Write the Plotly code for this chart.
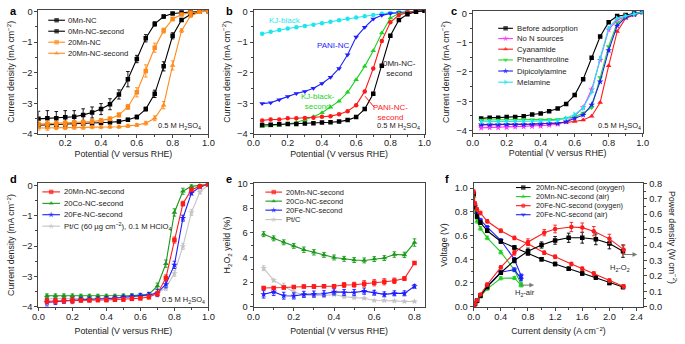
import plotly.graph_objects as go

W, H = 685, 344
FONT = "Liberation Sans, Arial, sans-serif"

# ---------------- data ----------------
potential = [0.05, 0.10, 0.15, 0.20, 0.25, 0.30, 0.35, 0.40, 0.45, 0.50,
             0.55, 0.60, 0.65, 0.70, 0.75, 0.80, 0.85, 0.90, 0.95, 1.00]

# panel a
a_0Mn = [-3.51, -3.49, -3.49, -3.46, -3.44, -3.38, -3.30, -3.19, -3.03, -2.71, -2.21, -1.55, -0.87, -0.40, -0.16, -0.06, -0.03, 0.0, 0.01, 0.02]
a_0Mn_err = [0.25, 0.25, 0.22, 0.22, 0.2, 0.2, 0.18, 0.18, 0.18, 0.15, 0.25, 0.12, 0.12, 0.07, 0.05, 0.03, 0.02, 0.01, 0.01, 0.01]
a_0Mn2 = [-3.72, -3.71, -3.70, -3.69, -3.68, -3.67, -3.66, -3.64, -3.62, -3.60, -3.54, -3.45, -3.19, -2.69, -1.79, -0.79, -0.27, -0.09, 0.0, 0.02]
a_0Mn2_err = [0.08, 0.07, 0.07, 0.06, 0.06, 0.06, 0.05, 0.05, 0.05, 0.05, 0.05, 0.06, 0.06, 0.12, 0.15, 0.1, 0.05, 0.03, 0.01, 0.01]
a_20Mn = [-3.68, -3.67, -3.66, -3.65, -3.63, -3.62, -3.60, -3.56, -3.51, -3.38, -3.12, -2.64, -1.94, -1.18, -0.62, -0.24, -0.09, -0.03, 0.0, 0.02]
a_20Mn_err = [0.1, 0.1, 0.08, 0.08, 0.07, 0.07, 0.06, 0.06, 0.06, 0.07, 0.08, 0.15, 0.2, 0.15, 0.08, 0.06, 0.03, 0.02, 0.01, 0.01]
a_20Mn2 = [-3.81, -3.81, -3.80, -3.80, -3.79, -3.79, -3.78, -3.78, -3.77, -3.77, -3.74, -3.71, -3.65, -3.49, -3.06, -1.76, -0.62, -0.14, -0.02, 0.02]
a_20Mn2_err = [0.07, 0.07, 0.06, 0.06, 0.06, 0.06, 0.05, 0.05, 0.05, 0.05, 0.05, 0.05, 0.06, 0.08, 0.12, 0.15, 0.06, 0.04, 0.01, 0.01]

# panel b
b_KJ = [-0.72, -0.66, -0.60, -0.55, -0.51, -0.47, -0.43, -0.38, -0.33, -0.28, -0.23, -0.19, -0.15, -0.11, -0.07, -0.04, -0.02, 0.0, 0.02, 0.03]
b_PANI = [-3.01, -2.98, -2.88, -2.78, -2.68, -2.61, -2.51, -2.35, -2.15, -1.86, -1.41, -0.83, -0.51, -0.24, -0.12, -0.06, -0.03, -0.01, 0.01, 0.03]
b_KJ2 = [-3.76, -3.74, -3.72, -3.68, -3.63, -3.54, -3.44, -3.31, -3.13, -2.93, -2.64, -2.23, -1.79, -1.28, -0.70, -0.21, -0.06, -0.02, 0.02, 0.04]
b_PANI2 = [-3.56, -3.53, -3.53, -3.49, -3.49, -3.48, -3.47, -3.44, -3.42, -3.36, -3.26, -3.06, -2.61, -1.86, -0.96, -0.35, -0.11, -0.03, 0.01, 0.04]
b_0Mn2 = [-3.71, -3.70, -3.69, -3.68, -3.68, -3.66, -3.65, -3.63, -3.62, -3.60, -3.55, -3.45, -3.19, -2.69, -1.77, -0.79, -0.27, -0.08, 0.0, 0.03]

# panel c
c_before = [-3.59, -3.56, -3.56, -3.54, -3.54, -3.51, -3.45, -3.42, -3.34, -3.25, -3.09, -2.79, -2.25, -1.51, -0.79, -0.30, -0.09, -0.05, 0.0, 0.05]
c_noN = [-3.91, -3.90, -3.90, -3.89, -3.88, -3.87, -3.86, -3.85, -3.82, -3.78, -3.69, -3.51, -3.21, -2.60, -1.59, -0.55, -0.22, -0.11, -0.03, 0.05]
c_cyan = [-3.80, -3.80, -3.79, -3.79, -3.79, -3.78, -3.78, -3.77, -3.76, -3.75, -3.72, -3.69, -3.64, -3.51, -3.04, -1.79, -0.62, -0.16, -0.05, 0.05]
c_phen = [-3.64, -3.64, -3.64, -3.64, -3.64, -3.63, -3.63, -3.63, -3.62, -3.62, -3.58, -3.54, -3.40, -3.21, -2.19, -1.13, -0.33, -0.11, -0.02, 0.05]
c_dipic = [-3.80, -3.80, -3.80, -3.79, -3.79, -3.79, -3.78, -3.77, -3.76, -3.75, -3.70, -3.58, -3.47, -3.12, -2.33, -1.26, -0.42, -0.13, -0.03, 0.05]
c_mel = [-3.70, -3.70, -3.70, -3.69, -3.69, -3.69, -3.68, -3.67, -3.66, -3.65, -3.58, -3.45, -3.23, -2.69, -1.53, -0.50, -0.16, -0.08, -0.02, 0.05]

# panel d
d_potential = [0.05, 0.10, 0.15, 0.20, 0.25, 0.30, 0.35, 0.40, 0.45, 0.50,
               0.55, 0.60, 0.65, 0.70, 0.75, 0.80, 0.85, 0.90, 0.95, 1.00]
d_Mn = [-3.82, -3.81, -3.80, -3.80, -3.79, -3.79, -3.78, -3.78, -3.77, -3.76, -3.74, -3.72, -3.68, -3.57, -3.05, -1.80, -0.60, -0.14, -0.03, 0.03]
d_Mn_err = [0.08, 0.08, 0.08, 0.1, 0.06, 0.06, 0.06, 0.06, 0.06, 0.06, 0.06, 0.06, 0.07, 0.08, 0.1, 0.1, 0.08, 0.05, 0.03, 0.02]
d_Co = [-3.64, -3.64, -3.64, -3.64, -3.65, -3.65, -3.65, -3.65, -3.65, -3.64, -3.63, -3.62, -3.59, -3.32, -2.58, -0.89, -0.19, -0.03, 0.0, 0.04]
d_Co_err = [0.06, 0.06, 0.06, 0.06, 0.06, 0.06, 0.06, 0.06, 0.06, 0.06, 0.06, 0.06, 0.06, 0.1, 0.12, 0.12, 0.1, 0.05, 0.03, 0.02]
d_Fe = [-3.86, -3.83, -3.81, -3.79, -3.77, -3.76, -3.75, -3.74, -3.72, -3.69, -3.67, -3.64, -3.61, -3.55, -3.26, -2.62, -1.08, -0.25, -0.05, 0.04]
d_Fe_err = [0.12, 0.1, 0.08, 0.08, 0.07, 0.07, 0.07, 0.07, 0.07, 0.07, 0.07, 0.07, 0.08, 0.12, 0.12, 0.12, 0.1, 0.06, 0.03, 0.02]
d_Pt = [-3.74, -3.74, -3.74, -3.74, -3.74, -3.73, -3.73, -3.72, -3.71, -3.70, -3.69, -3.67, -3.63, -3.56, -3.38, -2.90, -2.01, -0.89, -0.22, 0.02]
d_Pt_err = [0.05, 0.05, 0.05, 0.05, 0.05, 0.05, 0.05, 0.05, 0.05, 0.05, 0.05, 0.05, 0.05, 0.06, 0.08, 0.1, 0.1, 0.1, 0.06, 0.02]

# panel e
e_potential = [0.05, 0.10, 0.15, 0.20, 0.25, 0.30, 0.35, 0.40, 0.45, 0.50, 0.55, 0.60, 0.65, 0.70, 0.75, 0.80]
e_Mn = [1.52, 1.52, 1.55, 1.60, 1.63, 1.63, 1.65, 1.65, 1.76, 1.78, 1.86, 1.94, 2.02, 2.10, 2.28, 3.54]
e_Mn_err = [0.08, 0.08, 0.1, 0.1, 0.12, 0.15, 0.12, 0.15, 0.2, 0.2, 0.25, 0.25, 0.25, 0.22, 0.15, 0.1]
e_Co = [5.88, 5.54, 5.22, 4.93, 4.62, 4.41, 4.20, 3.99, 3.88, 3.78, 3.75, 3.86, 3.94, 4.23, 4.20, 5.20]
e_Co_err = [0.2, 0.2, 0.2, 0.2, 0.22, 0.22, 0.2, 0.2, 0.2, 0.2, 0.2, 0.2, 0.2, 0.22, 0.22, 0.3]
e_Fe = [1.00, 1.20, 0.89, 0.87, 1.00, 1.02, 1.05, 1.20, 1.15, 1.15, 1.26, 1.13, 1.00, 1.08, 1.08, 1.65]
e_Fe_err = [0.3, 0.3, 0.28, 0.25, 0.25, 0.25, 0.25, 0.25, 0.25, 0.25, 0.25, 0.2, 0.2, 0.2, 0.2, 0.15]
e_Pt = [3.12, 2.13, 1.65, 1.20, 0.94, 0.89, 0.89, 1.00, 0.81, 0.73, 0.68, 0.50, 0.50, 0.47, 0.42, 0.42]
e_Pt_err = [0.2, 0.1, 0.25, 0.1, 0.15, 0.1, 0.1, 0.1, 0.1, 0.08, 0.08, 0.06, 0.06, 0.05, 0.05, 0.05]

# panel f
f_MnO2_I = [0, 0.02, 0.05, 0.1, 0.2, 0.4, 0.6, 0.8, 1.0, 1.2, 1.4, 1.6, 1.8, 2.0, 2.2]
f_MnO2_V = [0.95, 0.84, 0.76, 0.71, 0.64, 0.55, 0.50, 0.45, 0.40, 0.36, 0.32, 0.28, 0.245, 0.20, 0.165]
f_MnO2_P = [0.0, 0.017, 0.038, 0.071, 0.128, 0.22, 0.30, 0.36, 0.40, 0.43, 0.447, 0.447, 0.437, 0.41, 0.36]
f_MnO2_Perr = [0, 0, 0.005, 0.005, 0.01, 0.01, 0.015, 0.02, 0.02, 0.025, 0.03, 0.035, 0.035, 0.035, 0.04]
f_FeO2_I = [0, 0.02, 0.05, 0.1, 0.2, 0.4, 0.6, 0.8, 1.04, 1.2, 1.44, 1.6, 1.77, 2.0, 2.21]
f_FeO2_V = [0.97, 0.87, 0.82, 0.79, 0.72, 0.64, 0.58, 0.53, 0.455, 0.42, 0.36, 0.32, 0.28, 0.22, 0.17]
f_FeO2_P = [0.0, 0.017, 0.041, 0.079, 0.144, 0.255, 0.349, 0.42, 0.48, 0.504, 0.517, 0.513, 0.49, 0.44, 0.37]
f_FeO2_Perr = [0, 0, 0.005, 0.005, 0.01, 0.01, 0.015, 0.02, 0.02, 0.025, 0.03, 0.03, 0.03, 0.03, 0.03]
f_MnAir_I = [0, 0.02, 0.05, 0.1, 0.2, 0.4, 0.6, 0.7]
f_MnAir_V = [0.93, 0.80, 0.72, 0.66, 0.58, 0.46, 0.31, 0.19]
f_MnAir_P = [0.0, 0.016, 0.036, 0.066, 0.116, 0.184, 0.186, 0.138]
f_FeAir_I = [0, 0.02, 0.05, 0.1, 0.2, 0.4, 0.6, 0.7]
f_FeAir_V = [0.95, 0.85, 0.78, 0.73, 0.67, 0.56, 0.40, 0.26]
f_FeAir_P = [0.0, 0.017, 0.039, 0.073, 0.134, 0.224, 0.24, 0.18]

# ---------------- style ----------------
BLACK = "#000000"
ORANGE = "#ff8a1a"
CYAN = "#1ee6f0"
BLUE = "#1e1eff"
GREEN_B = "#1ed21e"
GREEN = "#1a9a1a"
RED = "#ff1a1a"
MAGENTA = "#ff33ff"
GRAY = "#c4c4c4"
AX = "#444444"

fig = go.Figure()


def px_x(x):
    return x / W


def px_y(y):
    return 1 - y / H


def add(xs, ys, color, symbol, xa, ya, err=None, size=4.5, width=1.1):
    kw = {}
    if err is not None:
        kw["error_y"] = dict(type="data", array=err, thickness=0.9, width=1.8, color=color)
    fig.add_trace(go.Scatter(
        x=xs, y=ys, mode="lines+markers", xaxis=xa, yaxis=ya, showlegend=False,
        line=dict(color=color, width=width),
        marker=dict(symbol=symbol, size=size, color=color, line=dict(width=0)),
        **kw))


# a
add(potential, a_0Mn, BLACK, "square", "x", "y", a_0Mn_err)
add(potential, a_0Mn2, BLACK, "square", "x", "y", a_0Mn2_err)
add(potential, a_20Mn, ORANGE, "square", "x", "y", a_20Mn_err)
add(potential, a_20Mn2, ORANGE, "triangle-up", "x", "y", a_20Mn2_err, size=5)
# b
add(potential, b_KJ, CYAN, "circle", "x2", "y2")
add(potential, b_PANI, BLUE, "triangle-down", "x2", "y2", size=5)
add(potential, b_KJ2, GREEN_B, "triangle-up", "x2", "y2", size=5)
add(potential, b_PANI2, RED, "circle", "x2", "y2")
add(potential, b_0Mn2, BLACK, "square", "x2", "y2")
# c
add(potential, c_before, BLACK, "square", "x3", "y3")
add(potential, c_noN, MAGENTA, "star", "x3", "y3", size=5)
add(potential, c_cyan, RED, "triangle-up", "x3", "y3", size=5)
add(potential, c_phen, "#22dd22", "triangle-down", "x3", "y3", size=5)
add(potential, c_dipic, BLUE, "star", "x3", "y3", size=5)
add(potential, c_mel, CYAN, "triangle-right", "x3", "y3", size=5)
# d
add(d_potential, d_Pt, GRAY, "star", "x4", "y4", d_Pt_err, size=5)
add(d_potential, d_Co, GREEN, "triangle-up", "x4", "y4", d_Co_err, size=5)
add(d_potential, d_Fe, BLUE, "star", "x4", "y4", d_Fe_err, size=5)
add(d_potential, d_Mn, RED, "square", "x4", "y4", d_Mn_err)
# e
add(e_potential, e_Pt, GRAY, "star", "x5", "y5", e_Pt_err, size=5)
add(e_potential, e_Co, GREEN, "triangle-up", "x5", "y5", e_Co_err, size=5)
add(e_potential, e_Fe, BLUE, "star", "x5", "y5", e_Fe_err, size=5)
add(e_potential, e_Mn, RED, "square", "x5", "y5", e_Mn_err)
# f
add(f_MnAir_I, f_MnAir_V, "#22cc22", "triangle-up", "x6", "y6", [0.015] * 8, size=5)
add(f_MnAir_I, f_MnAir_P, "#22cc22", "triangle-up", "x6", "y7", [0.01] * 8, size=5)
add(f_FeAir_I, f_FeAir_V, BLUE, "triangle-down", "x6", "y6", [0.015] * 8, size=5)
add(f_FeAir_I, f_FeAir_P, BLUE, "triangle-down", "x6", "y7", [0.012] * 8, size=5)
add(f_MnO2_I, f_MnO2_V, BLACK, "square", "x6", "y6", [0.015] * 15)
add(f_MnO2_I, f_MnO2_P, BLACK, "square", "x6", "y7", f_MnO2_Perr)
add(f_FeO2_I, f_FeO2_V, RED, "circle", "x6", "y6", [0.015] * 15)
add(f_FeO2_I, f_FeO2_P, RED, "circle", "x6", "y7", f_FeO2_Perr)

# ---------------- legends (keys drawn on a pixel overlay) ----------------
legends = [
    # (key x0, key x1, text x, rows y, labels, colors, symbols, font size)
    (43, 60, 61, [15.7, 27, 38.3, 49.7],
     ["0Mn-NC", "0Mn-NC-second", "20Mn-NC", "20Mn-NC-second"],
     [BLACK, BLACK, ORANGE, ORANGE], ["square", "square", "square", "triangle-up"], 7.7),
    (501, 516, 518.5, [24, 34.6, 45.5, 56.6, 68.0, 79.5],
     ["Before adsorption", "No N sources", "Cyanamide", "Phenanthroline", "Dipicolylamine", "Melamine"],
     [BLACK, MAGENTA, RED, "#22dd22", BLUE, CYAN],
     ["square", "star", "triangle-up", "triangle-down", "star", "triangle-right"], 7.7),
    (37, 55, 56.5, [192.5, 204.3, 216, 227.8],
     ["20Mn-NC-second", "20Co-NC-second", "20Fe-NC-second",
      "Pt/C (60 µg cm<sup>−2</sup>), 0.1 M HClO<sub>4</sub>"],
     [RED, GREEN, BLUE, GRAY], ["square", "triangle-up", "star", "star"], 7.7),
    (264, 281, 283, [192.7, 202, 211.3, 221],
     ["20Mn-NC-second", "20Co-NC-second", "20Fe-NC-second", "Pt/C"],
     [RED, GREEN, BLUE, GRAY], ["square", "triangle-up", "star", "star"], 7.4),
    (519, 534, 537, [188, 197.3, 206.7, 216],
     ["20Mn-NC-second (oxygen)", "20Mn-NC-second (air)", "20Fe-NC-second (oxygen)", "20Fe-NC-second (air)"],
     [BLACK, "#22cc22", RED, BLUE], ["square", "triangle-up", "circle", "triangle-down"], 7.4),
]

annotations = []
for x0, x1, tx, rows, labels, colors, symbols, fs in legends:
    for ry, lab, col, sym in zip(rows, labels, colors, symbols):
        fig.add_trace(go.Scatter(
            x=[x0, (x0 + x1) / 2, x1], y=[ry, ry, ry], mode="lines+markers",
            xaxis="x8", yaxis="y8", showlegend=False, hoverinfo="skip",
            line=dict(color=col, width=1.1),
            marker=dict(symbol=sym, size=[0, 4.5, 0], color=col, line=dict(width=0))))
        annotations.append(dict(x=px_x(tx), y=px_y(ry), xref="paper", yref="paper",
                                text=lab, showarrow=False, xanchor="left", yanchor="middle",
                                font=dict(size=fs, family=FONT, color="#222")))

# ---------------- text annotations ----------------
def txt(x, y, s, size=8, color="#222", bold=False, xanchor="center", angle=0):
    if bold:
        s = "<b>" + s + "</b>"
    annotations.append(dict(x=px_x(x), y=px_y(y), xref="paper", yref="paper", text=s,
                            showarrow=False, xanchor=xanchor, yanchor="middle", textangle=angle,
                            font=dict(size=size, family=FONT, color=color)))


for lab, x, y in [("a", 2, 6), ("b", 222, 6), ("c", 451, 6), ("d", 2, 179), ("e", 222, 179), ("f", 445, 179)]:
    txt(x, y, lab, size=11, color="#000", bold=True, xanchor="left")

H2SO4 = "0.5 M H<sub>2</sub>SO<sub>4</sub>"
txt(177, 125, H2SO4, 7.5)
txt(400, 125, H2SO4, 7.5)
txt(624, 125, H2SO4, 7.5)
txt(181, 304, H2SO4, 7.5)

txt(284, 16, "KJ-black", 8, CYAN)
txt(333, 41.7, "PANI-NC", 8, BLUE)
txt(401, 65.8, "0Mn-NC-<br>second", 8, "#222")
txt(318, 99, "KJ-black-<br>second", 8, GREEN_B)
txt(391, 110.5, "PANI-NC-<br>second", 8, RED)

txt(625, 270.5, "H<sub>2</sub>-O<sub>2</sub>", 7.5)
txt(528, 296.5, "H<sub>2</sub>-air", 7.5)

txt(679, 239, "Power density (W cm<sup>−2</sup>)", 8.8, "#222", angle=90)

shapes = [dict(type="line", xref="paper", yref="paper",
               x0=px_x(374.5), y0=px_y(105), x1=px_x(365.5), y1=px_y(94),
               line=dict(color=RED, width=1))]
# small arrows in panel f (H2-O2 and H2-air)
for (xh, y, xt) in [(642, 257, 629), (537, 288.5, 524)]:
    shapes.append(dict(type="line", xref="paper", yref="paper",
                       x0=px_x(xt), y0=px_y(y), x1=px_x(xh - 3), y1=px_y(y),
                       line=dict(color="#777", width=1)))
    shapes.append(dict(type="path", xref="paper", yref="paper",
                       path="M {} {} L {} {} L {} {} Z".format(
                           px_x(xh - 4), px_y(y - 2), px_x(xh), px_y(y), px_x(xh - 4), px_y(y + 2)),
                       fillcolor="#777", line=dict(color="#777", width=0.5)))

# ---------------- axes ----------------
TICKF = dict(size=9.3, family=FONT, color="#222")
TITLEF = dict(size=8.8, family=FONT, color="#222")


def axis(domain, rng, dtick, fmt, title, anchor, minor, side=None, mirror=True,
         overlaying=None, standoff=None, labeloff=0):
    t = dict(text=title, font=TITLEF)
    if standoff is not None:
        t["standoff"] = standoff
    d = dict(domain=domain, range=rng, dtick=dtick, tick0=0, tickformat=fmt,
             showline=True, linecolor=AX, linewidth=1, mirror=mirror,
             ticks="outside", ticklen=3, tickwidth=1, tickcolor=AX,
             minor=dict(dtick=minor, ticks="outside", ticklen=2, tickcolor=AX, tickwidth=1, showgrid=False),
             showgrid=False, zeroline=False, tickfont=TICKF, anchor=anchor,
             ticklabelstandoff=labeloff, title=t)
    if side:
        d["side"] = side
    if overlaying:
        d["overlaying"] = overlaying
    return d


def dx(a, b):
    return [a / W, b / W]


def dy(top, bot):
    return [1 - bot / H, 1 - top / H]


POT = "Potential (V versus RHE)"
CD = "Current density (mA cm<sup>−2</sup>)"
XT, XB, YS = 3, 7, 5

layout = dict(
    width=W, height=H, margin=dict(l=0, r=0, t=0, b=0),
    paper_bgcolor="white", plot_bgcolor="rgba(0,0,0,0)",
    font=dict(family=FONT, color="#222"),
    showlegend=False,
    xaxis=axis(dx(33, 206), [0.05, 1.0], 0.2, ".1f", POT, "y", 0.1, standoff=XT, labeloff=-3),
    yaxis=axis(dy(5, 132.7), [-4, 0.06], 1, "d", CD, "x", 0.5, standoff=YS),
    xaxis2=axis(dx(252, 426), [0, 1.0], 0.2, ".1f", POT, "y2", 0.1, standoff=XT, labeloff=-3),
    yaxis2=axis(dy(5, 132.7), [-4, 0.06], 1, "d", CD, "x2", 0.5, standoff=YS),
    xaxis3=axis(dx(475, 648), [0, 1.0], 0.2, ".1f", POT, "y3", 0.1, standoff=XT, labeloff=-3),
    yaxis3=axis(dy(5.7, 132.3), [-4.1, 0.1], 1, "d", CD, "x3", 0.5, standoff=YS),
    xaxis4=axis(dx(33, 206), [0, 1.0], 0.2, ".1f", POT, "y4", 0.1, standoff=XB, labeloff=-2),
    yaxis4=axis(dy(183.7, 310.7), [-4, 0.07], 1, "d", CD, "x4", 0.5, standoff=YS),
    xaxis5=axis(dx(252, 426), [0, 0.85], 0.2, ".1f", POT, "y5", 0.1, standoff=XB, labeloff=-2),
    yaxis5=axis(dy(183.7, 310.7), [0, 10], 2, "d", "H<sub>2</sub>O<sub>2</sub> yeild (%)", "x5", 1, standoff=YS),
    xaxis6=axis(dx(476, 648.7), [0, 2.5], 0.4, ".1f", "Current density (A cm<sup>−2</sup>)", "y6", 0.2,
                standoff=XB, labeloff=-2),
    yaxis6=axis(dy(183.7, 310.7), [0, 1.04], 0.2, ".1f", "Voltage (V)", "x6", 0.1, standoff=YS),
    yaxis7=axis(dy(183.7, 310.7), [0, 0.8], 0.1, ".1f", "", "x6", 0.05, side="right",
                mirror=False, overlaying="y6"),
    xaxis8=dict(domain=[0, 1], range=[0, W], visible=False, anchor="y8", fixedrange=True),
    yaxis8=dict(domain=[0, 1], range=[H, 0], visible=False, anchor="x8", fixedrange=True),
    annotations=annotations,
    shapes=shapes,
)
fig.update_layout(**layout)
fig.write_html("out.html")
